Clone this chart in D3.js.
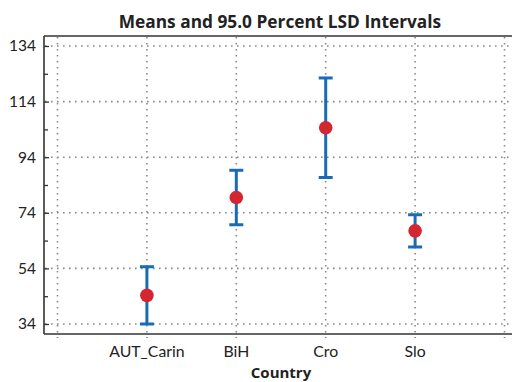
<!DOCTYPE html>
<html>
<head>
<meta charset="utf-8">
<script src="https://cdn.jsdelivr.net/npm/d3@7"></script>
<style>
  html, body { margin: 0; padding: 0; background: #fff; }
  svg { display: block; }
  text { font-family: Lato, "Open Sans", sans-serif; fill: #222; }
</style>
</head>
<body>
<script>
// Group means with their 95% LSD interval bounds
const countries = ["AUT_Carin", "BiH", "Cro", "Slo"];
const means = [44.3, 79.5, 104.6, 67.5];
const lower = [34.0, 69.7, 86.7, 61.7];
const upper = [54.6, 89.3, 122.5, 73.3];
const yTicks = [34, 54, 74, 94, 114, 134];
const yMinorTicks = [44, 64, 84, 104, 124];

const W = 512, H = 382;
const plotL = 44, plotR = 512, plotT = 36, plotB = 334;

const svg = d3.select("body").append("svg")
  .attr("width", W).attr("height", H);

// Category slots 1..4, with empty slots 0 and 5 bordering the plot
const x = d3.scaleLinear().domain([0, 5]).range([57.5, 504.5]);
const y = d3.scaleLinear().domain([34, 134]).range([324, 46]);

const gridIdx = d3.range(0, 6);

// dotted grid
const grid = svg.append("g")
  .attr("stroke", "#8a8a8a")
  .attr("stroke-width", 1.6)
  .attr("stroke-dasharray", "1.6,4.4");
grid.selectAll("line.v").data(gridIdx).join("line")
  .attr("class", "v")
  .attr("x1", d => x(d)).attr("x2", d => x(d))
  .attr("y1", plotT + 1).attr("y2", plotB + 4);
grid.selectAll("line.h").data(yTicks).join("line")
  .attr("class", "h")
  .attr("x1", plotL + 1).attr("x2", plotR)
  .attr("y1", d => y(d)).attr("y2", d => y(d));

// y axis with inward ticks
const yAxis = svg.append("g")
  .attr("transform", `translate(${plotL},0)`)
  .call(d3.axisLeft(y).tickValues(yTicks).tickSize(-5).tickPadding(8));
yAxis.select(".domain").remove();
yAxis.selectAll(".tick line").attr("stroke", "#333").attr("stroke-width", 1.3);
yAxis.selectAll(".tick text")
  .style("font-family", "Lato, sans-serif")
  .attr("font-size", 15.5).attr("fill", "#222");

const yMinor = svg.append("g")
  .attr("transform", `translate(${plotL},0)`)
  .call(d3.axisLeft(y).tickValues(yMinorTicks).tickSize(-4).tickFormat(""));
yMinor.select(".domain").remove();
yMinor.selectAll(".tick line").attr("stroke", "#333").attr("stroke-width", 1.3);

// frame: top, left, bottom
const frame = svg.append("g").attr("stroke", "#333").attr("stroke-width", 1.6).attr("fill", "none");
frame.append("line").attr("x1", plotL).attr("x2", plotR).attr("y1", plotT).attr("y2", plotT);
frame.append("line").attr("x1", plotL).attr("x2", plotL).attr("y1", plotT).attr("y2", plotB);
frame.append("line").attr("x1", plotL).attr("x2", plotR).attr("y1", plotB).attr("y2", plotB);

// x category labels
svg.append("g").selectAll("text").data(countries).join("text")
  .attr("x", (d, i) => x(i + 1))
  .attr("y", 357)
  .attr("text-anchor", "middle")
  .attr("font-size", 15.8)
  .text(d => d);

// interval bars
const bars = svg.append("g")
  .attr("stroke", "#1a6bb6")
  .attr("stroke-width", 3)
  .attr("fill", "none");
const capW = 7;
countries.forEach((c, i) => {
  const cx = x(i + 1);
  bars.append("line").attr("x1", cx).attr("x2", cx)
    .attr("y1", y(lower[i])).attr("y2", y(upper[i]));
  bars.append("line").attr("x1", cx - capW).attr("x2", cx + capW)
    .attr("y1", y(upper[i])).attr("y2", y(upper[i]));
  bars.append("line").attr("x1", cx - capW).attr("x2", cx + capW)
    .attr("y1", y(lower[i])).attr("y2", y(lower[i]));
});

// group means
svg.append("g").selectAll("circle").data(means).join("circle")
  .attr("cx", (d, i) => x(i + 1))
  .attr("cy", d => y(d))
  .attr("r", 6.8)
  .attr("fill", "#d3262e");

// title and axis title
svg.append("text")
  .attr("x", 280).attr("y", 28)
  .attr("text-anchor", "middle")
  .style("font-family", "'Open Sans', sans-serif")
  .attr("font-size", 17.3).attr("font-weight", "bold")
  .text("Means and 95.0 Percent LSD Intervals");

svg.append("text")
  .attr("x", 281).attr("y", 378)
  .attr("text-anchor", "middle")
  .style("font-family", "'Open Sans', sans-serif")
  .attr("font-size", 15).attr("font-weight", "bold")
  .text("Country");
</script>
</body>
</html>
